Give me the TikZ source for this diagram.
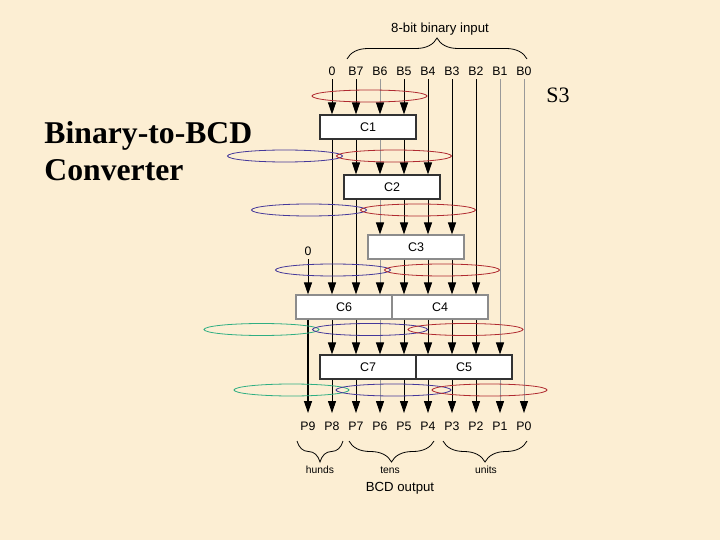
\documentclass[tikz,border=0pt]{standalone}
\usepackage{fontspec}
\setmainfont{Liberation Serif}
\setsansfont{Liberation Sans}
\usetikzlibrary{arrows.meta,shapes.geometric,decorations.pathreplacing}
\definecolor{paper}{HTML}{FCEED3}
\definecolor{ovalred}{HTML}{B02A30}
\definecolor{ovalblue}{HTML}{45389A}
\definecolor{ovalgreen}{HTML}{2FAE82}

\begin{document}
\begin{tikzpicture}[x=1pt,y=-1pt,->,>={Triangle[length=12pt,width=8pt,color=black,fill=black]},node distance=24pt,line width=0.9pt,
	input node/.style={font=\sffamily\fontsize{12.3}{14}\selectfont,inner xsep=0pt,inner ysep=3.5pt,text height=9pt,text depth=0pt},
	output node/.style={font=\sffamily\fontsize{12.3}{14}\selectfont,inner xsep=0pt,inner ysep=8pt,text height=9pt,text depth=0pt},
	conv box/.style={draw=black!80,line width=1.1pt,fill=white,minimum width=96pt,minimum height=24pt,inner sep=0pt,font=\sffamily\fontsize{12.5}{14}\selectfont},
	pale box/.style={conv box,draw=black!45},
	oval/.style={ellipse,draw,line width=0.8pt,minimum width=115pt,minimum height=12pt,inner sep=0pt},
	red oval/.style={oval,draw=ovalred},
	blue oval/.style={oval,draw=ovalblue},
	green oval/.style={oval,draw=ovalgreen},
	dim wire/.style={color=black!40},
	brace/.style={-,line width=0.8pt,decorate,decoration={brace,amplitude=21pt,aspect=0.5}},
	small text/.style={font=\sffamily\fontsize{10.3}{12}\selectfont},
	big text/.style={font=\sffamily\fontsize{13.2}{15}\selectfont}]

	\fill[paper] (0,0) rectangle (720,540);

	\node[input node] (zero) at (332,71) {0};
	\node[input node] (B7) [right of = zero] {B7};
	\node[input node] (B6) [right of = B7] {B6};
	\node[input node] (B5) [right of = B6] {B5};
	\node[input node] (B4) [right of = B5] {B4};
	\node[input node] (B3) [right of = B4] {B3};
	\node[input node] (B2) [right of = B3] {B2};
	\node[input node] (B1) [right of = B2] {B1};
	\node[input node] (B0) [right of = B1] {B0};
	\node[input node] (zerob) at (308,251) {0};

	\node[output node] (P9) at (308,426) {P9};
	\node[output node] (P8) [right of = P9] {P8};
	\node[output node] (P7) [right of = P8] {P7};
	\node[output node] (P6) [right of = P7] {P6};
	\node[output node] (P5) [right of = P6] {P5};
	\node[output node] (P4) [right of = P5] {P4};
	\node[output node] (P3) [right of = P4] {P3};
	\node[output node] (P2) [right of = P3] {P2};
	\node[output node] (P1) [right of = P2] {P1};
	\node[output node] (P0) [right of = P1] {P0};

	\node[conv box] (C1) at (368,127) {C1};
	\node[conv box] (C2) at (392,187) {C2};
	\node[pale box] (C3) at (416,247) {C3};
	\node[pale box] (C6) at (344,307) {C6};
	\node[pale box] (C4) at (440,307) {C4};
	\node[conv box] (C7) at (368,367) {C7};
	\node[conv box] (C5) at (464,367) {C5};

	% into C1
	\path[] (zero) edge (zero |- C1.north);
	\path[] (B7) edge (B7 |- C1.north);
	\path[dim wire] (B6) edge (B6 |- C1.north);
	\path[] (B5) edge (B5 |- C1.north);
	\path[] (B4) edge (B4 |- C2.north);
	\path[] (B3) edge (B3 |- C3.north);
	\path[] (B2) edge (B2 |- C4.north);
	\path[dim wire] (B1) edge (B1 |- C5.north);
	\path[dim wire] (B0) edge (P0);

	% C1 to C2
	\path[] (zero |- C1.south) edge (zero |- C6.north);
	\path[] (B7 |- C1.south) edge (B7 |- C2.north);
	\path[dim wire] (B6 |- C1.south) edge (B6 |- C2.north);
	\path[] (B5 |- C1.south) edge (B5 |- C2.north);

	% C2 to C3
	\path[] (B7 |- C2.south) edge (B7 |- C6.north);
	\path[dim wire] (B6 |- C2.south) edge (B6 |- C3.north);
	\path[] (B5 |- C2.south) edge (B5 |- C3.north);
	\path[] (B4 |- C2.south) edge (B4 |- C3.north);

	% C3 to C6 and C4
	\path[dim wire] (B6 |- C3.south) edge (B6 |- C6.north);
	\path[] (B5 |- C3.south) edge (B5 |- C4.north);
	\path[] (B4 |- C3.south) edge (B4 |- C4.north);
	\path[] (B3 |- C3.south) edge (B3 |- C4.north);
	\path[] (zerob) edge (zerob |- C6.north);

	% C6 and C4 to C7 and C5
	\path[line width=1.2pt] (zerob |- C6.south) edge (P9);
	\path[] (zero |- C6.south) edge (zero |- C7.north);
	\path[] (B7 |- C6.south) edge (B7 |- C7.north);
	\path[dim wire] (B6 |- C6.south) edge (B6 |- C7.north);
	\path[] (B5 |- C4.south) edge (B5 |- C7.north);
	\path[] (B4 |- C4.south) edge (B4 |- C5.north);
	\path[] (B3 |- C4.south) edge (B3 |- C5.north);
	\path[] (B2 |- C4.south) edge (B2 |- C5.north);

	% out of C7 and C5
	\path[] (zero |- C7.south) edge (P8);
	\path[] (B7 |- C7.south) edge (P7);
	\path[dim wire] (B6 |- C7.south) edge (P6);
	\path[] (B5 |- C7.south) edge (P5);
	\path[] (B4 |- C5.south) edge (P4);
	\path[] (B3 |- C5.south) edge (P3);
	\path[] (B2 |- C5.south) edge (P2);
	\path[dim wire] (B1 |- C5.south) edge (P1);

	\node[red oval] (r1) at (369.5,96) {};
	\node[blue oval] (b2) at (285,156) {};
	\node[red oval] (r2) at (394,156) {};
	\node[blue oval] (b3) at (309,210) {};
	\node[red oval] (r3) at (418,210) {};
	\node[blue oval] (b4) at (333,270) {};
	\node[red oval] (r4) at (442,270) {};
	\node[green oval] (g5) at (261.5,329.5) {};
	\node[blue oval] (b5) at (370,329.5) {};
	\node[red oval] (r5) at (465.5,329.5) {};
	\node[green oval] (g6) at (291.5,390) {};
	\node[blue oval] (b6) at (393.5,390) {};
	\node[red oval] (r6) at (489.5,390) {};

	\coordinate (inleft) at (347,59);
	\coordinate (inright) at (527,59);
	\coordinate (hundsleft) at (297,441);
	\coordinate (hundsright) at (343,441);
	\coordinate (tensleft) at (349,441);
	\coordinate (tensright) at (434,441);
	\coordinate (unitsleft) at (443,441);
	\coordinate (unitsright) at (527,441);
	\draw[brace] (inleft) -- (inright);
	\draw[brace] (hundsright) -- (hundsleft);
	\draw[brace] (tensright) -- (tensleft);
	\draw[brace] (unitsright) -- (unitsleft);

	\node[big text] (inputlabel) at (440,29) {8-bit binary input};
	\node[small text] (hunds) at (320,470) {hunds};
	\node[small text] (tens) at (390,470) {tens};
	\node[small text] (units) at (486,470) {units};
	\node[big text] (outputlabel) at (400,488) {BCD output};

	\node[font=\fontsize{22}{24}\selectfont,inner sep=0pt] (S3) at (558,95) {S3};
	\node[font=\bfseries\fontsize{31.7}{37}\selectfont,align=left,anchor=north west,inner sep=0pt] (title) at (44,121) {Binary-to-BCD\\Converter};
\end{tikzpicture}
\end{document}
